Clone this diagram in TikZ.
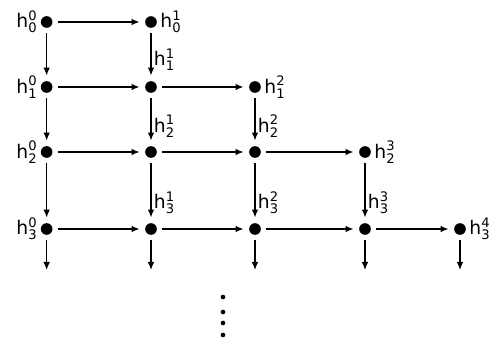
\documentclass[tikz,border=0pt]{standalone}
\usepackage{fontspec}
\setsansfont{DejaVu Sans}
\usetikzlibrary{arrows.meta}
\newcommand{\hlab}[2]{h$^{\mathsf{#2}}_{\mathsf{#1}}$}

\begin{document}
\begin{tikzpicture}[line width=1.1pt,
	dot node/.style={circle,fill=black,inner sep=0pt,minimum size=3.5mm},
	flow/.style={-{Latex[length=2.4mm,width=2mm]},shorten <=1.5mm,shorten >=1.5mm},
	hfont/.style={font=\sffamily\fontsize{16}{19}\selectfont,inner sep=2pt},
	every label/.style={hfont}]
	\useasboundingbox (0,0) rectangle (14.97,10.26);
	
	\node[dot node,label=left:\hlab{0}{0}] at (1.40,9.60) (h00) {};
	\node[dot node,label=right:\hlab{0}{1}] at (4.53,9.60) (h01) {};
	
	\node[dot node,label=left:\hlab{1}{0}] at (1.40,7.65) (h10) {};
	\node[dot node] at (4.53,7.65) (h11) {};
	\node[dot node,label=right:\hlab{1}{2}] at (7.65,7.65) (h12) {};
	
	\node[dot node,label=left:\hlab{2}{0}] at (1.40,5.70) (h20) {};
	\node[dot node] at (4.53,5.70) (h21) {};
	\node[dot node] at (7.65,5.70) (h22) {};
	\node[dot node,label=right:\hlab{2}{3}] at (10.95,5.70) (h23) {};
	
	\node[dot node,label=left:\hlab{3}{0}] at (1.40,3.39) (h30) {};
	\node[dot node] at (4.53,3.39) (h31) {};
	\node[dot node] at (7.65,3.39) (h32) {};
	\node[dot node] at (10.95,3.39) (h33) {};
	\node[dot node,label=right:\hlab{3}{4}] at (13.80,3.39) (h34) {};
	
	\coordinate (base) at (0,2.16);
	
	% rows
	\foreach \i in {0,...,3}{
		\foreach \j [evaluate=\j as \k using int(\j+1)] in {0,...,\i}{
			\draw[flow] (h\i\j) -- (h\i\k);
		}
	}
	
	% columns
	\foreach \i/\p/\ps in {1/0/0.6, 2/1/0.63, 3/2/0.69}{
		\draw[flow] (h\p0) -- (h\i0);
		\foreach \j in {1,...,\i}{
			\draw[flow] (h\p\j) -- node[right,pos=\ps,hfont] {\hlab{\i}{\j}} (h\i\j);
		}
	}
	
	\foreach \j in {0,...,4}{
		\coordinate (e\j) at (h3\j |- base);
		\draw[flow,shorten >=0pt] (h3\j) -- (e\j);
	}
	
	\foreach \y in {1.35,0.90,0.57,0.21}
		\fill (6.69,\y) circle (0.07);
	
\end{tikzpicture}
\end{document}
